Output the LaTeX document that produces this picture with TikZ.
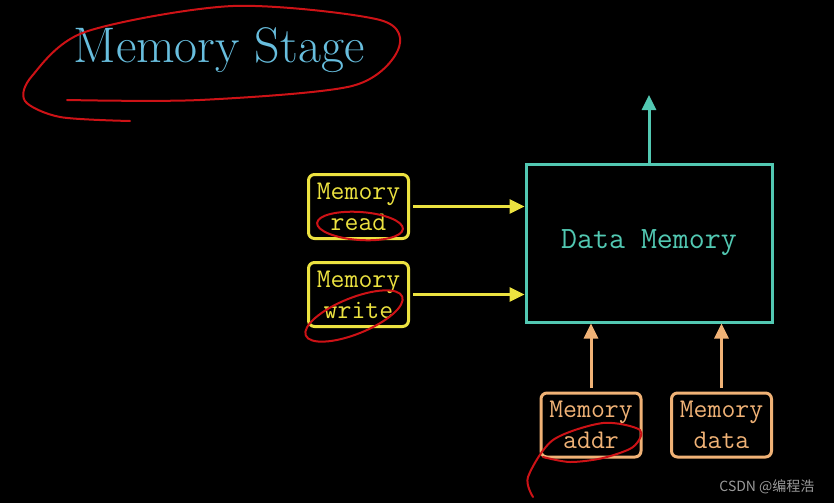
\documentclass[tikz,border=0pt]{standalone}
\usepackage{fontspec}
\newfontfamily\cjkfont{Noto Sans CJK SC}
\usetikzlibrary{arrows.meta}
\definecolor{teal1}{RGB}{82,200,178}
\definecolor{yell1}{RGB}{236,226,64}
\definecolor{oran1}{RGB}{240,178,118}
\definecolor{title1}{RGB}{104,190,222}
\definecolor{pen1}{RGB}{205,18,22}
\tikzset{
  ctlbox/.style={draw,line width=3pt,rounded corners=6pt,minimum width=100pt,minimum height=64pt,
    align=center,font=\fontsize{27}{31}\selectfont\ttfamily,inner sep=0pt},
  sig/.style={line width=3pt,-{Triangle[width=14pt,length=15pt]}},
  pen/.style={pen1,line width=2pt,line cap=round}
}
\begin{document}
\begin{tikzpicture}[x=1pt,y=-1pt]
        \fill[black] (0,0) rectangle (834,503);
        \useasboundingbox (0,0) rectangle (834,503);
        %% title
        \node[title1,font=\fontsize{50}{55}\selectfont] (title) at (219,50) {Memory Stage};
        %% data memory
        \node[draw=teal1,teal1,line width=3pt,minimum width=246pt,minimum height=158pt,
            font=\fontsize{31}{36}\selectfont\ttfamily] (dmem) at (649,243) {Data Memory};
        \coordinate (out) at (649,95);
        \draw[sig,teal1] (dmem.north) -- (out);
        %% control signals
        \node[ctlbox,yell1] (mread) at (358.5,206.5) {Memory\\read};
        \node[ctlbox,yell1] (mwrite) at (358.5,294.5) {Memory\\write};
        \node[ctlbox,oran1] (maddr) at (591,425) {Memory\\addr};
        \node[ctlbox,oran1] (mdata) at (721.5,425) {Memory\\data};
        \foreach \s in {mread,mwrite}
            \draw[sig,yell1,shorten <=3pt] (\s.east) -- (\s.east -| dmem.west);
        \foreach \s in {maddr,mdata}
            \draw[sig,oran1,shorten <=4pt] (\s.north) -- (\s.north |- dmem.south);
        %% pen marks
        \draw[pen] plot[smooth] coordinates {(130,121) (60,117) (25,101) (32,76) (85,32) (233,6) (380,20) (398,50) (352,86) (200,100) (67,100)};
        \draw[pen] (360,226) ellipse[x radius=43,y radius=14,rotate=-4];
        \draw[pen,rotate around={22:(354,316)}] (354,316) ellipse[x radius=52,y radius=18];
        \draw[pen] plot[smooth] coordinates {(533,497) (528,477) (553,440) (603,423) (640,430) (633,447) (603,458) (570,462) (543,457)};
        %% watermark
        \node[gray!80,font=\cjkfont\fontsize{14}{16}\selectfont,anchor=east] (mark) at (818,487) {CSDN @编程浩};
    \end{tikzpicture}
\end{document}
